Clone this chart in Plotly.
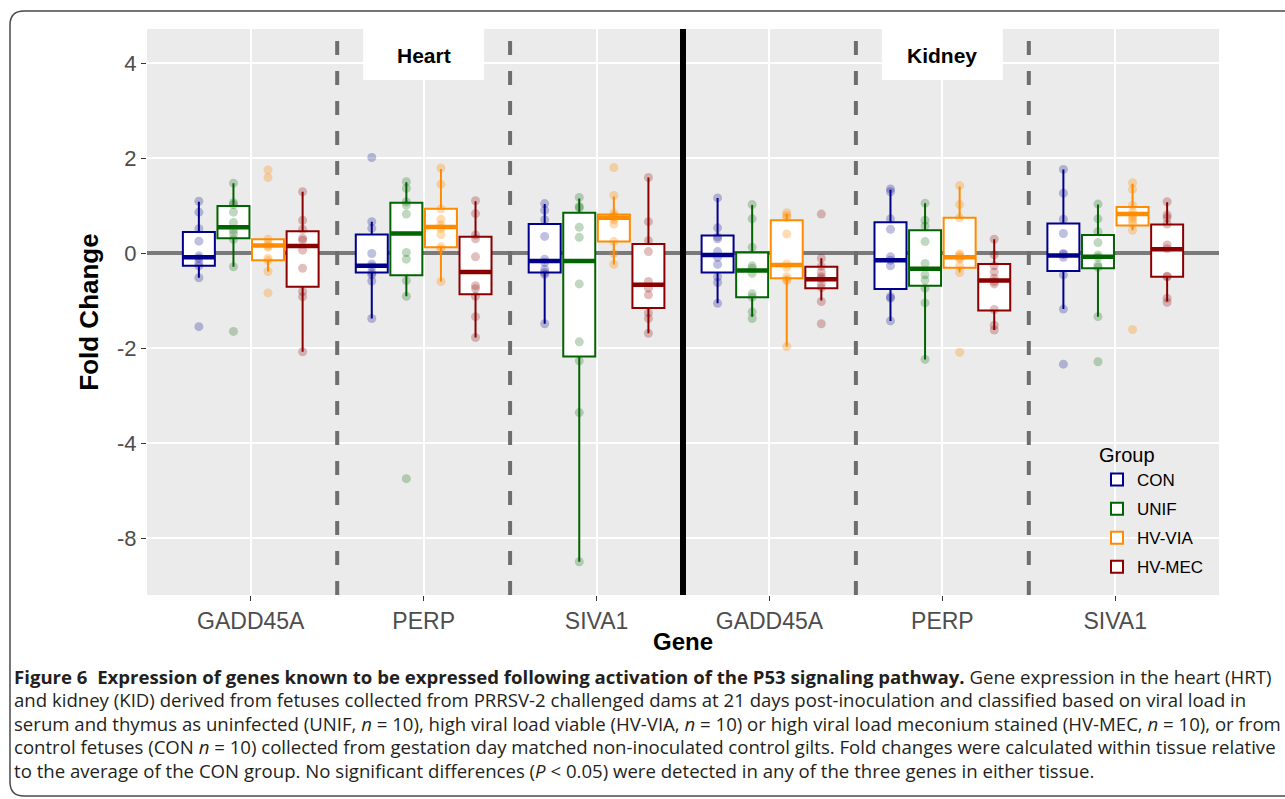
import plotly.graph_objects as go
import numpy as np

# ---------------- data ----------------
genes = ["GADD45A", "PERP", "SIVA1", "GADD45A", "PERP", "SIVA1"]
tissue_labels = ["Heart", "Kidney"]
groups = ["CON", "UNIF", "HV-VIA", "HV-MEC"]
colors = {"CON": "#00008B", "UNIF": "#006400", "HV-VIA": "#FF8C00", "HV-MEC": "#8B0000"}
point_colors = {"CON": "rgba(0,0,139,0.25)", "UNIF": "rgba(0,100,0,0.25)",
                "HV-VIA": "rgba(255,140,0,0.30)", "HV-MEC": "rgba(139,0,0,0.25)"}

# individual fold changes (10 fetuses per group), one list per gene/tissue column
con_pts = [
    [1.09, 0.86, 0.51, 0.25, -0.06, -0.11, -0.20, -0.27, -0.52, -1.55],
    [2.01, 0.66, 0.52, -0.01, -0.23, -0.29, -0.41, -0.46, -0.59, -1.38],
    [1.04, 0.90, 0.70, 0.35, -0.13, -0.20, -0.34, -0.41, -0.45, -1.49],
    [1.16, 0.53, 0.34, 0.30, 0.03, -0.09, -0.24, -0.50, -0.62, -1.06],
    [1.35, 1.29, 0.72, 0.50, -0.08, -0.15, -0.27, -0.92, -0.95, -1.43],
    [1.76, 1.26, 0.71, 0.41, -0.01, -0.03, -0.09, -0.46, -1.18, -2.34],
]
unif_pts = [
    [1.47, 1.06, 1.02, 0.86, 0.64, 0.48, 0.40, 0.29, -0.29, -1.65],
    [1.50, 1.36, 1.08, 1.01, 0.82, 0.01, -0.13, -0.58, -0.91, -4.75],
    [1.17, 0.98, 0.95, 0.54, 0.33, -0.65, -1.87, -2.27, -3.36, -6.50],
    [1.02, 0.72, 0.12, -0.27, -0.32, -0.43, -0.86, -0.93, -1.24, -1.38],
    [1.05, 0.69, 0.57, 0.24, -0.22, -0.46, -0.57, -0.74, -1.05, -2.24],
    [1.03, 0.72, 0.45, 0.22, -0.04, -0.09, -0.25, -0.30, -1.34, -2.29],
]
hvvia_pts = [
    [1.75, 1.59, 0.29, 0.20, 0.15, 0.12, -0.11, -0.16, -0.39, -0.84],
    [1.79, 1.45, 0.93, 0.71, 0.59, 0.52, 0.39, 0.13, 0.08, -0.60],
    [1.80, 1.21, 0.84, 0.78, 0.76, 0.70, 0.61, 0.24, -0.01, -0.24],
    [0.85, 0.79, 0.75, 0.40, -0.23, -0.30, -0.50, -0.56, -0.58, -1.97],
    [1.42, 1.02, 0.74, -0.02, -0.05, -0.09, -0.13, -0.27, -0.41, -2.09],
    [1.48, 1.34, 1.00, 0.86, 0.80, 0.75, 0.69, 0.63, 0.48, -1.61],
]
hvmec_pts = [
    [1.29, 0.69, 0.50, 0.31, 0.27, 0.06, -0.32, -0.81, -0.92, -2.08],
    [1.10, 0.83, 0.38, 0.30, -0.08, -0.69, -0.75, -0.91, -1.34, -1.78],
    [1.59, 0.66, 0.26, 0.03, -0.60, -0.74, -0.88, -1.26, -1.38, -1.69],
    [0.82, -0.11, -0.28, -0.41, -0.50, -0.54, -0.64, -0.73, -1.02, -1.49],
    [0.29, -0.04, -0.27, -0.40, -0.53, -0.60, -0.65, -1.19, -1.52, -1.62],
    [1.08, 0.80, 0.74, 0.61, 0.17, 0.09, -0.49, -0.50, -0.95, -1.04],
]

# box statistics (per gene/tissue column)
con_q1 = [-0.27, -0.41, -0.41, -0.41, -0.76, -0.38]
con_med = [-0.09, -0.27, -0.17, -0.04, -0.15, -0.05]
con_q3 = [0.44, 0.39, 0.61, 0.37, 0.65, 0.62]
con_lo = [-0.52, -1.38, -1.49, -1.06, -1.43, -1.18]
con_hi = [1.08, 0.66, 1.03, 1.16, 1.33, 1.76]

unif_q1 = [0.31, -0.47, -2.18, -0.93, -0.69, -0.32]
unif_med = [0.54, 0.41, -0.17, -0.37, -0.33, -0.08]
unif_q3 = [0.99, 1.06, 0.85, 0.01, 0.48, 0.38]
unif_lo = [-0.29, -0.91, -6.50, -1.34, -2.24, -1.34]
unif_hi = [1.47, 1.49, 1.15, 1.01, 1.05, 1.02]

hvvia_q1 = [-0.15, 0.12, 0.24, -0.53, -0.31, 0.58]
hvvia_med = [0.16, 0.55, 0.74, -0.25, -0.09, 0.82]
hvvia_q3 = [0.29, 0.93, 0.81, 0.69, 0.74, 0.97]
hvvia_lo = [-0.39, -0.60, -0.24, -1.97, -0.41, 0.48]
hvvia_hi = [0.29, 1.77, 1.19, 0.82, 1.40, 1.46]

hvmec_q1 = [-0.71, -0.87, -1.16, -0.74, -1.21, -0.50]
hvmec_med = [0.15, -0.40, -0.67, -0.55, -0.58, 0.08]
hvmec_q3 = [0.46, 0.34, 0.19, -0.29, -0.23, 0.60]
hvmec_lo = [-2.08, -1.78, -1.69, -1.00, -1.62, -1.02]
hvmec_hi = [1.29, 1.09, 1.59, -0.11, 0.29, 1.07]

y_tickvals = [4, 2, 0, -2, -4, -6]
y_ticktext = ["4", "2", "0", "-2", "-4", "-8"]

caption_lines = [
    "<b>Figure 6&nbsp; Expression of genes known to be expressed following activation of the P53 signaling pathway.</b> Gene expression in the heart (HRT)",
    "and kidney (KID) derived from fetuses collected from PRRSV-2 challenged dams at 21 days post-inoculation and classified based on viral load in",
    "serum and thymus as uninfected (UNIF, <i>n</i> = 10), high viral load viable (HV-VIA, <i>n</i> = 10) or high viral load meconium stained (HV-MEC, <i>n</i> = 10), or from",
    "control fetuses (CON <i>n</i> = 10) collected from gestation day matched non-inoculated control gilts. Fold changes were calculated within tissue relative",
    "to the average of the CON group. No significant differences (<i>P</i> &lt; 0.05) were detected in any of the three genes in either tissue.",
]

series = {
    "CON": (con_pts, con_q1, con_med, con_q3, con_lo, con_hi),
    "UNIF": (unif_pts, unif_q1, unif_med, unif_q3, unif_lo, unif_hi),
    "HV-VIA": (hvvia_pts, hvvia_q1, hvvia_med, hvvia_q3, hvvia_lo, hvvia_hi),
    "HV-MEC": (hvmec_pts, hvmec_q1, hvmec_med, hvmec_q3, hvmec_lo, hvmec_hi),
}

# ---------------- layout helpers ----------------
W, H = 1285, 799
L, R, T, B = 147, 66, 29, 204
PW, PH = W - L - R, H - T - B
def px2x(px): return (px - L) / PW
def py2y(py): return (H - B - py) / PH

dodge = [-0.3, -0.1, 0.1, 0.3]
box_w = 0.185
cat_pos = np.arange(1, len(genes) + 1)
x_range = [0.4, 6.6]
y_range = [-7.2, 4.716]

fig = go.Figure()

for gi, g in enumerate(groups):
    pts, q1, med, q3, lo, hi = series[g]
    xpos = cat_pos + dodge[gi]
    fig.add_trace(go.Box(
        x=xpos, q1=q1, median=med, q3=q3, lowerfence=lo, upperfence=hi,
        width=box_w, fillcolor="white", line=dict(color=colors[g], width=2),
        whiskerwidth=0, boxpoints=False, name=g, legendgroup=g, showlegend=True,
        hoverinfo="skip",
    ))
for gi, g in enumerate(groups):
    pts, q1, med, q3, lo, hi = series[g]
    xpos = cat_pos + dodge[gi]
    mx, my = [], []
    for x0, m in zip(xpos, med):
        mx += [x0 - box_w / 2, x0 + box_w / 2, None]
        my += [m, m, None]
    fig.add_trace(go.Scatter(x=mx, y=my, mode="lines", line=dict(color=colors[g], width=4.5),
                             legendgroup=g, showlegend=False, hoverinfo="skip"))
for gi, g in enumerate(groups):
    pts = series[g][0]
    xs, ys = [], []
    for ci, col in enumerate(pts):
        xs += [cat_pos[ci] + dodge[gi]] * len(col)
        ys += col
    fig.add_trace(go.Scatter(x=xs, y=ys, mode="markers",
                             marker=dict(size=9, color=point_colors[g], line=dict(width=0)),
                             legendgroup=g, showlegend=False, hoverinfo="skip"))

shapes = []
# zero line
shapes.append(dict(type="line", xref="x", yref="y", x0=x_range[0], x1=x_range[1], y0=0, y1=0,
                   line=dict(color="#7A7A7A", width=4), layer="between"))
# separators
for xs in [1.5, 2.5, 4.5, 5.5]:
    shapes.append(dict(type="line", xref="x", yref="y", x0=xs, x1=xs, y0=y_range[0], y1=y_range[1],
                       line=dict(color="#6E6E6E", width=4, dash="14px,16px"), layer="between"))
shapes.append(dict(type="line", xref="x", yref="y", x0=3.5, x1=3.5, y0=y_range[0], y1=y_range[1],
                   line=dict(color="black", width=6), layer="between"))
# tissue label boxes
for cx in [2, 5]:
    shapes.append(dict(type="rect", xref="x", yref="y", x0=cx - 0.35, x1=cx + 0.35, y0=3.64, y1=6,
                       fillcolor="white", line=dict(width=0), layer="between"))
# figure frame with rounded corners
r = 14
fx0, fy0, fy1, fx1 = 10, 11, 796, 1310
path = (f"M {px2x(fx1)},{py2y(fy0)} L {px2x(fx0 + r)},{py2y(fy0)} "
        f"Q {px2x(fx0)},{py2y(fy0)} {px2x(fx0)},{py2y(fy0 + r)} "
        f"L {px2x(fx0)},{py2y(fy1 - r)} Q {px2x(fx0)},{py2y(fy1)} {px2x(fx0 + r)},{py2y(fy1)} "
        f"L {px2x(fx1)},{py2y(fy1)}")
shapes.append(dict(type="path", xref="paper", yref="paper", path=path,
                   line=dict(color="#4a4a4a", width=1.5)))

annotations = []
for cx, lab in zip([2, 5], tissue_labels):
    annotations.append(dict(x=cx, y=4.15, xref="x", yref="y", text=f"<b>{lab}</b>", showarrow=False,
                            font=dict(family="Liberation Sans, Arial, sans-serif", size=21, color="black")))
cap_y = [676, 699.5, 723, 746.5, 770]
for ln, yy in zip(caption_lines, cap_y):
    annotations.append(dict(x=px2x(12), y=py2y(yy), xref="paper", yref="paper", text=ln,
                            showarrow=False, xanchor="left", yanchor="middle",
                            font=dict(family="Open Sans, sans-serif", size=18.6, color="#231F20")))

fig.update_layout(
    width=W, height=H,
    margin=dict(l=L, r=R, t=T, b=B, autoexpand=False),
    paper_bgcolor="white", plot_bgcolor="#EBEBEB",
    boxmode="overlay",
    shapes=shapes, annotations=annotations,
    font=dict(family="Liberation Sans, Arial, sans-serif"),
    legend=dict(title=dict(text="Group", font=dict(size=20, color="black")),
                font=dict(size=17, color="black"), x=px2x(1097), y=py2y(436),
                xanchor="left", yanchor="top", bgcolor="rgba(0,0,0,0)",
                tracegroupgap=4, traceorder="grouped"),
    xaxis=dict(range=x_range, tickmode="array", tickvals=list(cat_pos), ticktext=genes,
               showgrid=True, gridcolor="white", gridwidth=2, zeroline=False,
               ticks="outside", ticklen=5, tickwidth=1.2, tickcolor="#333333",
               tickfont=dict(size=23, color="#4D4D4D"),
               title=dict(text="<b>Gene</b>", font=dict(size=24, color="black"), standoff=0)),
    yaxis=dict(range=y_range, tickmode="array", tickvals=y_tickvals, ticktext=y_ticktext,
               showgrid=True, gridcolor="white", gridwidth=2, zeroline=False,
               ticks="outside", ticklen=5, tickwidth=1.2, tickcolor="#333333",
               tickfont=dict(size=22, color="#4D4D4D"),
               title=dict(text="<b>Fold Change</b>", font=dict(size=26, color="black"), standoff=10)),
)

fig.write_html("out.html")
